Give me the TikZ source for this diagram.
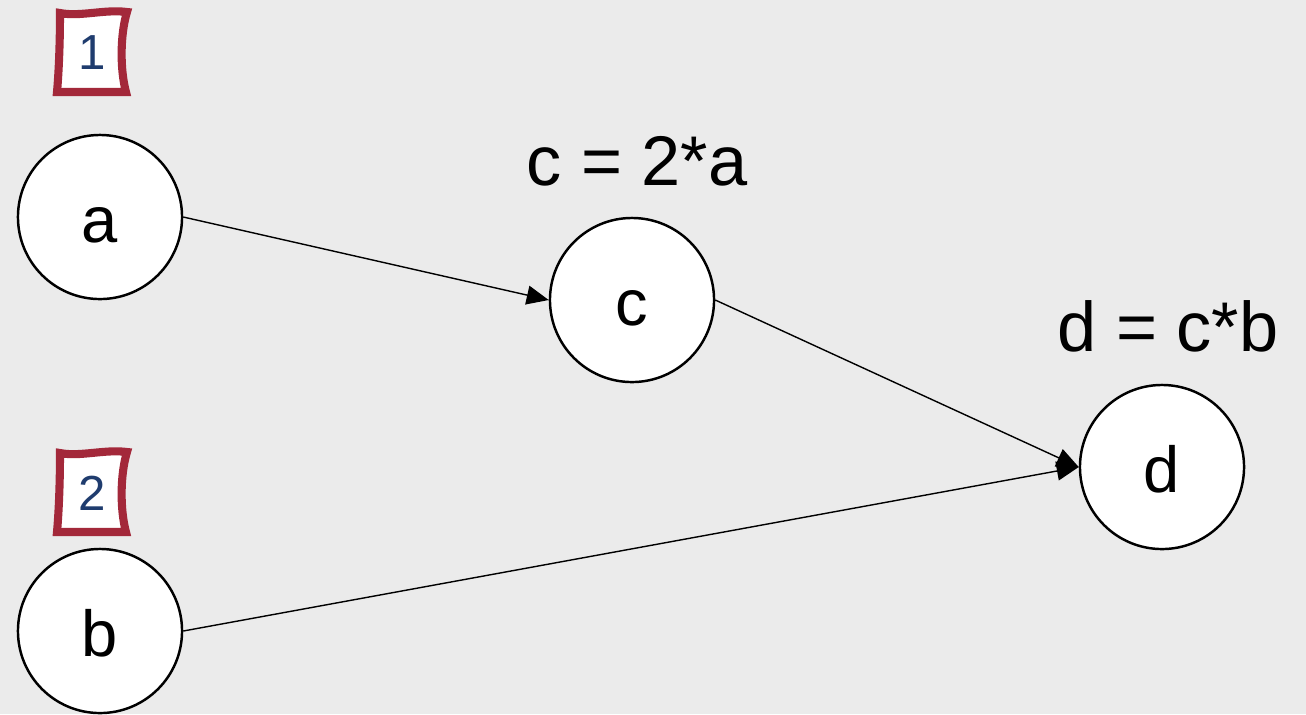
\documentclass[tikz,border=0pt]{standalone}
\usepackage{fontspec}
\setmainfont{Liberation Sans}
\usetikzlibrary{arrows.meta,positioning}
\definecolor{BgClr}{HTML}{EBEBEB}
\definecolor{TagClr}{HTML}{A3283A}
\definecolor{NumClr}{HTML}{1F3C6E}

\begin{document}
\begin{tikzpicture}[x=0.01cm,y=-0.01cm,
  var/.style={circle,draw=black,fill=white,line width=0.7pt,minimum size=1.64cm,inner sep=0pt,
    font=\fontsize{18.5}{22}\selectfont,text height=14.4pt,text depth=0pt},
  eqlabel/.style={font=\fontsize{20}{24}\selectfont,inner sep=0pt},
  edge/.style={line width=0.4pt,-{Triangle[length=0.22cm,width=0.19cm]}},
  tagframe/.style={draw=TagClr,fill=white,line width=2.3pt},
  tagnum/.style={text=NumClr,font=\fontsize{14}{17}\selectfont,inner sep=0pt}]

\fill[BgClr] (0,0) rectangle (1306,714);
\useasboundingbox (0,0) rectangle (1306,714);

% numbered tags
\foreach \n/\dy in {1/0,2/440}{
  \begin{scope}[shift={(0,\dy)}]
    \draw[tagframe] (60,13) .. controls (80,17) and (105,9) .. (127,12)
      .. controls (120,35) and (120,70) .. (126,92) -- (57,92)
      .. controls (59,70) and (60,40) .. cycle;
    \node[tagnum] (tag\n) at (92,53) {\n};
  \end{scope}
}

% variables
\node[var] (a) at (100,217) {a};
\node[var] (b) at (100,631) {b};
\node[var] (c) at (632,300) {c};
\node[var] (d) at (1162,467) {d};

% operations
\node[eqlabel] (clabel) at (637,161) {c = 2*a};
\node[eqlabel] (dlabel) at (1168,326) {d = c*b};

\draw[edge] (a.east) -- (c.west);
\draw[edge] (c.east) -- (d.west);
\draw[edge] (b.east) -- (d.west);

\end{tikzpicture}
\end{document}
